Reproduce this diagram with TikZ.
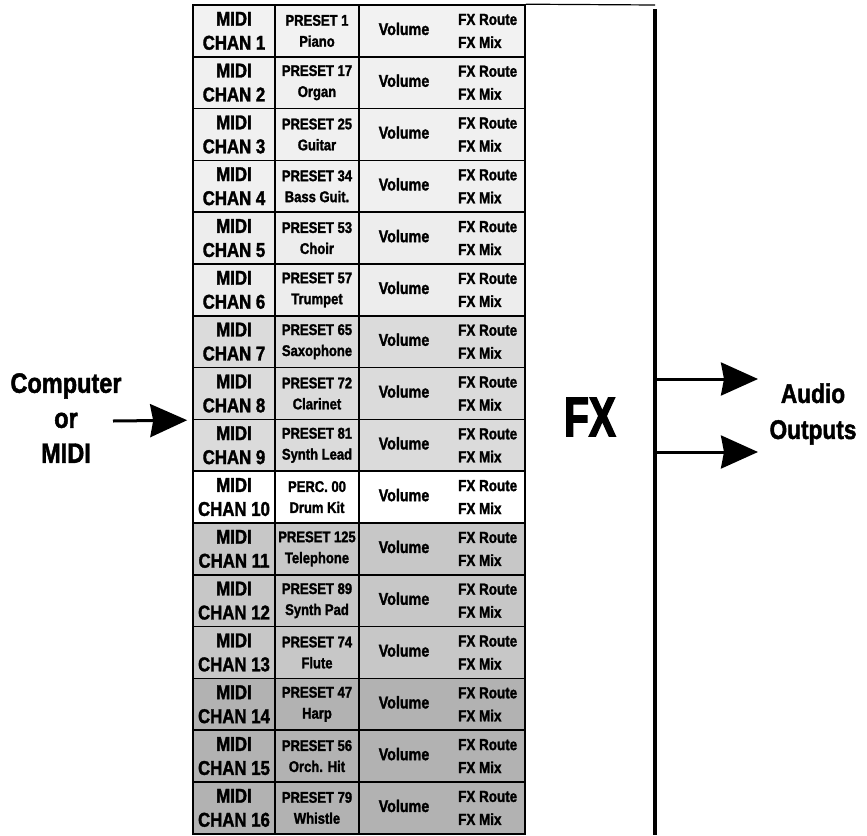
\documentclass[tikz,border=0pt]{standalone}
\usepackage{fontspec}
\setmainfont{Liberation Sans}[FakeStretch=0.84, BoldFeatures={FakeBold=1.6}]
\newfontfamily\fxfont{Liberation Sans}[FakeStretch=0.72, BoldFeatures={FakeBold=2.5}]
\usetikzlibrary{positioning,calc,arrows.meta}

\begin{document}
\begin{tikzpicture}[
    x=1pt, y=-1pt,
    cell/.style={draw, line width=1.6pt, rectangle, minimum height=51.8pt, inner sep=0pt, align=center},
    chan/.style={cell, minimum width=82pt, font=\bfseries\fontsize{20}{24}\selectfont},
    preset/.style={cell, minimum width=84pt, font=\bfseries\fontsize{15.5}{21}\selectfont},
    mix/.style={cell, minimum width=166pt},
    vol/.style={inner sep=0pt, font=\bfseries\fontsize{17}{20}\selectfont},
    route/.style={inner sep=0pt, align=left, anchor=west, font=\bfseries\fontsize{16}{23}\selectfont},
    side/.style={align=center, inner sep=0pt},
    signal/.style={line width=3pt, -{Stealth[length=37pt,width=33pt,inset=3pt]}}
]
    \useasboundingbox (0,0) rectangle (867,835);

    % one row per MIDI channel
    \foreach \i/\prog/\voice/\shade in {
        1/PRESET 1/Piano/black!5, 2/PRESET 17/Organ/black!6, 3/PRESET 25/Guitar/black!6,
        4/PRESET 34/Bass Guit./black!6, 5/PRESET 53/Choir/black!7, 6/PRESET 57/Trumpet/black!7,
        7/PRESET 65/Saxophone/black!14, 8/PRESET 72/Clarinet/black!14, 9/PRESET 81/Synth Lead/black!14,
        10/PERC. 00/Drum Kit/white,
        11/PRESET 125/Telephone/black!22, 12/PRESET 89/Synth Pad/black!22, 13/PRESET 74/Flute/black!22,
        14/PRESET 47/Harp/black!30, 15/PRESET 56/Orch. Hit/black!30, 16/PRESET 79/Whistle/black!30}
    {
        \pgfmathsetmacro\rowy{5+(\i-0.5)*51.8}
        \node [chan, fill=\shade] (chan\i) at (234,\rowy) {MIDI\\CHAN \i};
        \node [preset, fill=\shade] (preset\i) at (317,\rowy) {\prog\\\voice};
        \node [mix, fill=\shade] (mix\i) at (442,\rowy) {};
        \node [vol] (vol\i) at (404,\rowy-2) {Volume};
        \node [route] (route\i) at (458,\rowy) {FX Route\\FX Mix};
    }

    % effects section and output bus
    \node [side, font=\fxfont\bfseries\fontsize{56}{60}\selectfont] (fx) at (590,417) {FX};
    \coordinate (bustop) at (655,9);
    \coordinate (busend) at (655,835);
    \draw [line width=1.2pt] (mix1.north east) -- (655,5);
    \draw [line width=4pt] (bustop) -- (busend);

    % input
    \node [side, font=\bfseries\fontsize{28}{35}\selectfont] (source) at (66,418) {Computer\\or\\MIDI};
    \coordinate (in) at (113,421);
    \coordinate (intip) at ($(chan8.south west)+(-5,0)$);
    \draw [signal] (in) -- (intip);

    % outputs
    \node [side, font=\bfseries\fontsize{27}{36}\selectfont] (audio) at (813,414) {Audio\\Outputs};
    \coordinate (out1) at (655,379);
    \coordinate (out2) at (655,452);
    \coordinate (tip1) at (758,379);
    \coordinate (tip2) at (758,452);
    \draw [signal] (out1) -- (tip1);
    \draw [signal] (out2) -- (tip2);
\end{tikzpicture}
\end{document}
